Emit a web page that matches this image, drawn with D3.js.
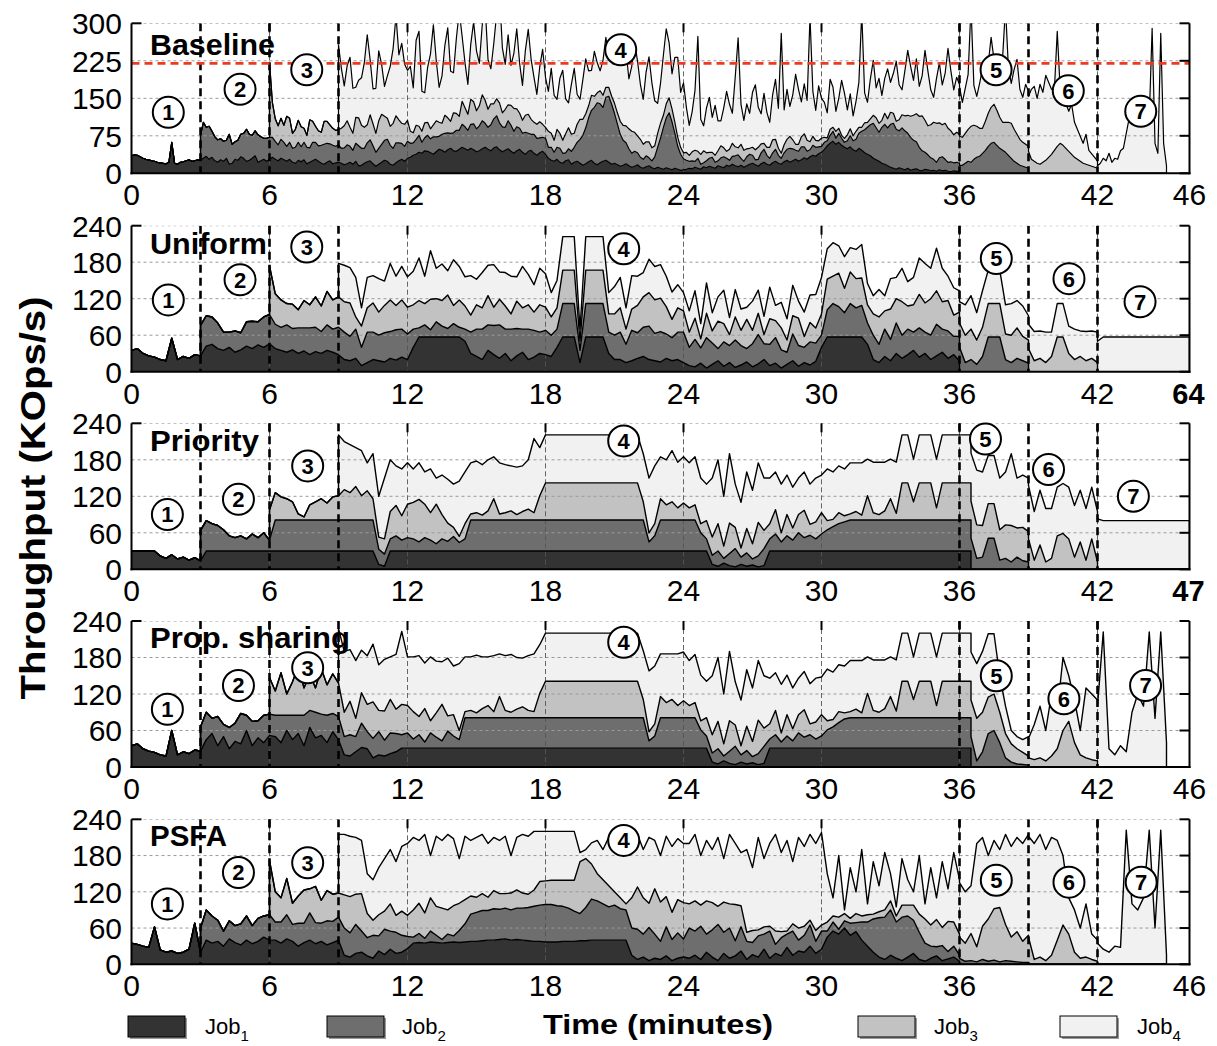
<!DOCTYPE html>
<html>
<head>
<meta charset="utf-8">
<script src="https://cdn.jsdelivr.net/npm/d3@7"></script>
<style>
  body { margin: 0; background: #fff; }
  svg { display: block; font-family: "Liberation Sans", Arial, sans-serif; }
</style>
</head>
<body>
<svg id="chart" width="1217" height="1046"></svg>
<script>
// Throughput traces (KOps/s). Each job's trace starts at its start time and is
// sampled every `step` minutes of its panel, lasting as long as its array.
const jobNames = ["Job1", "Job2", "Job3", "Job4"];
const jobStarts = [0, 3, 6, 9];
const panelNames = ["Baseline", "Uniform", "Priority", "Prop. sharing", "PSFA"];
const panelSteps = [0.125, 0.25, 0.25, 0.25, 0.25];
const yTicksBaseline = [0, 75, 150, 225, 300];
const yTicksShared = [0, 60, 120, 180, 240];
const xTicks = [0, 6, 12, 18, 24, 30, 36, 42, 46];
const phaseBounds = [3, 6, 9, 36, 39, 42];
const phaseLabels = ["1", "2", "3", "4", "5", "6", "7"];
const capacityLine = 220;
const runEndLabels = [null, "64", "47", null, null];

// ---------- Baseline (every 0.125 min) ----------
const baselineJob1 = [
  35,37,36,33,30,28,27,25,24,22,21,20,19,22,62,20,18,22,23,25,27,24,25,27,26,
  30,34,28,32,25,22,27,24,30,18,20,28,26,33,30,24,26,30,35,22,25,28,24,28,
  32,28,25,30,27,24,28,22,20,26,23,27,19,22,25,28,24,20,18,22,25,19,21,22,
  20,17,19,22,18,24,15,16,20,23,25,19,14,18,22,26,24,18,16,21,25,28,24,30,
  32,36,38,42,40,45,44,41,38,43,48,46,42,47,50,45,44,48,52,49,46,50,47,43,
  45,49,52,48,45,51,53,47,43,46,49,44,40,45,48,42,38,44,46,40,36,41,44,38,
  30,26,24,28,22,20,25,27,18,22,24,20,16,19,23,26,20,17,21,24,26,22,18,20,
  17,14,16,19,15,12,14,17,12,10,13,15,11,9,12,10,8,11,9,7,10,8,6,7,
  8,10,9,12,10,8,13,11,14,12,10,15,13,11,16,14,18,15,13,16,12,15,18,20,
  17,14,19,22,18,16,21,24,20,18,23,26,22,25,28,24,27,31,28,33,36,34,39,42,
  48,55,60,64,58,62,56,52,49,53,47,44,50,46,41,38,35,30,27,24,20,18,15,12,
  10,8,11,9,7,10,6,8,9,6,5,8,7,5,6,4,7,5,6,4,3,5,4,4];
const baselineJob2 = [
  50,72,58,66,52,48,45,42,40,36,60,38,35,40,45,50,64,52,46,50,55,48,42,46,44,
  40,36,32,38,35,30,34,28,32,36,30,35,33,29,37,34,31,36,40,38,34,37,33,35,
  30,34,38,32,28,36,40,34,30,38,42,36,28,32,36,40,44,38,34,40,36,32,30,34,
  28,25,30,34,22,26,32,28,35,30,26,32,38,34,30,36,42,38,46,44,40,48,52,46,
  50,56,48,44,52,58,62,54,50,46,56,52,44,48,42,38,44,36,32,38,34,30,28,32,
  22,26,18,24,28,20,16,22,26,30,38,48,60,72,88,100,112,124,118,108,126,132,120,100,
  82,64,50,42,34,28,30,24,20,18,22,16,14,24,40,60,84,100,112,96,70,46,32,22,
  18,14,16,12,20,10,8,14,16,20,12,10,18,22,14,12,16,20,24,14,12,18,20,16,
  10,14,22,26,18,14,20,24,16,12,18,22,28,24,18,20,26,22,16,14,20,18,14,12,
  14,10,16,20,12,18,14,10,16,22,18,24,30,38,46,54,62,70,64,58,72,80,76,86,
  90,80,74,82,78,70,66,58,54,46,40,34,30,26,22,18,24,28,22,18,20,16,18,16,
  16,20,24,22,28,32,34,40,46,54,60,62,56,50,46,42,36,30,24,20,16,14,12,10];
const baselineJob3 = [
  150,70,45,38,42,34,60,48,30,36,44,40,28,24,56,42,32,30,26,46,44,38,34,32,30,
  40,44,48,38,34,52,56,46,42,36,50,44,38,55,60,48,42,38,50,54,46,40,44,42,
  24,20,28,18,22,30,26,20,24,32,28,22,36,30,24,40,34,28,46,38,32,50,44,36,
  40,52,46,36,42,30,34,40,28,36,32,40,46,36,30,26,34,38,30,24,28,32,26,22,
  32,28,24,36,30,26,38,42,34,28,36,40,32,28,24,30,22,20,26,24,20,18,16,20,
  22,26,30,34,40,44,38,34,36,30,28,32,26,22,28,30,24,28,30,26,22,18,14,12,
  16,12,18,22,14,20,24,16,12,10,14,20,24,18,14,22,26,18,14,28,22,16,12,16,
  20,24,18,12,16,22,26,20,14,10,16,20,24,18,12,14,20,26,22,16,18,14,12,16,
  10,6,12,8,14,10,6,8,12,14,10,16,12,8,14,10,12,16,20,18,14,22,18,24,
  20,16,22,26,30,36,42,50,56,62,70,64,58,66,74,78,70,64,72,68,62,56,60,58,
  56,60,64,72,68,62,56,50,58,66,72,76,70,62,56,60,66,70,64,58,52,48,46,44,
  28,24,20,18,22,26,32,38,46,54,60,56,50,44,38,32,28,24,20,18,16,14,12,10];
const baselineJob4 = [
  170,120,80,110,140,90,60,75,95,130,180,110,70,90,140,100,60,85,120,150,200,130,160,120,100,
  130,90,170,190,80,60,110,150,200,120,70,95,140,180,100,80,150,210,130,90,60,110,160,120,
  85,140,190,100,70,120,170,220,130,90,140,80,110,160,100,70,130,170,120,90,60,110,150,100,
  80,130,90,60,110,140,70,50,100,130,60,40,80,110,70,50,90,60,40,70,100,60,80,120,
  140,170,120,150,100,130,180,150,110,90,140,170,130,90,60,80,120,150,110,70,130,160,110,140,
  90,60,80,120,230,70,50,90,110,70,100,60,50,80,120,90,60,140,220,80,60,90,70,110,
  130,80,60,100,70,50,90,120,80,240,70,100,60,90,140,110,70,100,80,250,90,60,110,80,
  70,50,100,80,40,60,110,90,50,70,40,60,90,230,60,40,80,110,60,90,50,70,100,60,
  80,120,70,50,90,130,100,70,110,60,80,140,110,70,50,90,120,80,100,160,120,90,110,100,
  70,90,110,240,80,60,90,120,80,100,140,90,70,100,130,230,110,80,120,150,100,90,120,110,
  140,150,130,160,140,170,150,130,120,230,110,100,90,80,100,70,60,50,40,60,30,25,20,15,
  20,30,25,40,22,30,28,45,50,80,110,130,140,120,100,130,150,110,290,60,40,280,60,15];

// ---------- Uniform (every 0.25 min) ----------
const uniformJob1 = [
  35,38,30,26,24,20,18,55,20,25,22,28,26,
  42,45,38,35,40,32,36,42,38,44,40,46,
  38,35,32,36,30,34,28,33,30,35,32,28,
  20,18,22,10,15,20,18,16,22,19,24,20,
  40,57,57,57,57,57,57,57,57,50,30,25,20,35,28,22,30,18,26,32,20,24,30,28,
  25,40,57,57,57,15,57,57,57,57,30,20,20,15,18,22,25,20,18,16,22,18,20,15,
  10,8,14,6,12,18,9,15,7,11,16,8,13,20,10,14,6,12,18,9,15,11,17,40,
  57,57,57,57,57,57,57,45,20,15,25,18,30,22,28,35,24,30,20,26,32,22,28,18];
const uniformJob2 = [
  50,50,45,42,30,25,35,28,40,45,38,50,48,
  40,38,45,35,42,38,44,40,36,42,38,45,
  45,40,48,30,50,45,42,48,44,50,46,42,
  30,15,20,12,25,18,14,22,16,20,35,45,50,42,48,55,40,52,45,38,50,44,35,40,
  35,30,55,55,55,20,55,55,55,55,35,40,45,30,50,42,48,55,45,50,40,38,45,50,
  30,45,25,50,35,20,40,28,45,32,22,38,48,26,35,42,30,20,44,34,25,38,30,20,
  45,55,50,40,55,48,52,35,40,30,45,35,50,38,42,30,48,35,40,52,38,45,30,40,
  15,20,12,25,57,57,57,20,15,22,18,14];
const uniformJob3 = [
  80,50,45,35,40,30,45,38,50,42,55,48,50,
  50,55,20,35,40,48,38,45,52,40,48,44,
  40,45,35,50,38,42,55,30,45,38,28,40,35,48,30,42,38,25,45,35,40,30,45,38,
  30,35,55,55,55,15,55,55,55,55,30,35,40,25,35,45,50,55,55,55,45,30,40,35,
  25,35,15,40,20,45,30,18,38,25,48,22,35,15,42,28,36,20,30,45,18,32,25,35,
  50,45,55,40,52,48,45,30,35,45,30,50,40,55,38,45,55,48,60,55,45,50,35,40,
  45,50,40,48,55,55,55,42,45,50,40,38,
  18,22,15,25,57,57,30,20,25,18,22,15];
const uniformJob4 = [
  55,60,58,65,30,50,45,55,40,60,48,55,50,
  55,70,45,80,50,60,40,75,55,48,65,42,58,50,70,45,55,62,40,68,50,45,60,55,
  40,45,55,55,55,20,55,55,55,55,35,45,50,35,55,48,40,55,55,55,50,45,38,30,
  35,45,25,50,30,40,55,28,45,35,20,48,38,30,52,25,42,35,50,28,40,45,55,60,
  50,55,45,52,40,48,55,35,30,45,25,50,35,55,40,45,60,65,50,70,55,40,45,35,
  50,55,45,60,55,55,55,48,52,45,50,40,
  48,45,50,40,55,55,45,50,42,48,45,50,
  57,57,57,57,57,57,57,57,57,57,57,57,57,57,57,57];

// ---------- Priority (every 0.25 min) ----------
const priorityJob1 = [
  30,30,30,30,30,22,18,24,17,20,15,19,14,
  30,30,30,30,30,30,30,30,30,30,30,30,
  30,30,30,30,30,30,30,30,30,30,30,30,
  30,30,30,30,30,30,8,5,30,30,30,30,
  30,30,30,30,30,30,30,30,30,30,30,30,30,30,30,30,30,30,30,30,30,30,30,30,
  30,30,30,30,30,30,30,30,30,30,30,30,30,30,30,30,30,30,30,30,30,30,30,30,
  30,30,30,30,8,5,10,6,4,8,5,7,4,6,30,30,30,30,30,30,30,30,30,30,
  30,30,30,30,30,30,30,30,30,30,30,30,30,30,30,30,30,30,30,30,30,30,30,30,
  30,30];
const priorityJob2 = [
  50,50,45,42,35,25,22,25,20,28,22,30,18,
  51,51,51,51,51,51,51,51,51,51,51,51,
  51,51,51,51,51,51,25,20,20,25,18,22,
  20,15,22,18,12,20,16,24,14,20,51,51,51,51,51,51,51,51,51,51,51,51,51,51,
  51,51,51,51,51,51,51,51,51,51,51,51,51,51,51,51,51,15,25,51,51,51,51,51,
  51,51,30,20,15,25,8,20,30,12,22,10,18,28,20,28,15,25,18,30,22,26,20,28,
  35,40,45,48,51,51,51,51,51,51,51,51,51,51,51,51,51,51,51,51,51,51,51,51,
  51,51,18,20,51,51,15,18,12,20,14,12];
const priorityJob3 = [
  50,45,38,35,30,10,5,25,30,35,28,38,40,
  50,45,55,40,48,35,20,25,45,50,40,55,
  60,70,55,45,65,40,30,15,10,25,10,12,8,15,35,10,12,15,9,14,18,12,40,61,
  61,61,61,61,61,61,61,61,61,61,61,61,61,61,61,61,30,15,20,35,25,30,20,28,
  20,25,15,30,30,45,20,50,35,15,40,25,55,30,25,40,15,35,20,30,45,18,28,35,
  15,12,18,10,10,14,8,40,12,9,15,35,11,61,61,30,61,61,61,20,61,61,61,61,
  61,61,55,52,57,57,50,55,60,48,55,50,
  15,40,12,18,55,59,50,20,45,15,50,12];
const priorityJob4 = [
  100,79,79,64,74,46,74,67,100,85,65,77,68,
  55,60,53,72,43,65,72,71,91,85,84,85,83,84,69,84,79,74,78,75,81,122,79,79,
  79,79,79,79,79,79,79,79,79,79,79,79,79,79,79,79,79,90,95,69,74,84,75,76,
  74,79,75,60,97,105,82,114,71,75,93,88,98,86,75,62,80,65,67,60,63,66,72,62,
  85,78,77,77,84,80,86,60,83,86,80,65,84,79,79,70,79,79,79,80,79,79,79,79,
  79,79,90,88,79,79,85,87,118,82,86,88,
  80,90,88,82,80,82,85,85,85,85,85,83,
  80,80,80,80,80,80,80,80,80,80,80,80,80,80,80,80];

// ---------- Proportional sharing (every 0.25 min) ----------
const propJob1 = [
  35,38,30,26,24,20,18,60,20,25,22,28,26,
  45,55,35,50,30,42,38,60,35,48,40,52,
  50,40,60,45,55,35,65,48,52,40,58,45,
  20,18,25,32,30,15,20,18,22,25,31,31,
  31,31,31,31,31,31,31,31,31,31,31,31,31,31,31,31,31,31,31,31,31,31,31,31,
  31,31,31,31,31,31,31,31,31,31,31,31,31,31,31,31,31,31,31,31,31,31,31,31,
  31,31,31,31,8,5,10,6,4,8,5,7,4,6,31,31,31,31,31,31,31,31,31,31,
  31,31,31,31,31,31,31,31,31,31,31,31,31,31,31,31,31,31,31,31,31,31,31,31,
  31,31];
const propJob2 = [
  40,45,25,48,20,35,30,50,25,40,28,45,35,
  35,45,25,40,30,50,28,42,35,45,30,38,
  30,35,25,40,28,32,38,26,34,30,22,25,
  15,22,10,25,18,12,28,20,14,50,50,50,50,50,50,50,50,50,50,50,50,50,50,50,
  50,50,50,50,50,50,50,50,50,50,50,50,50,50,50,50,50,12,20,50,50,50,50,50,
  50,50,30,20,15,25,8,20,30,12,22,10,18,28,15,22,10,20,12,25,18,22,15,20,
  30,35,42,48,50,50,50,50,50,50,50,50,50,50,50,50,50,50,50,50,50,50,50,50,
  50,50,10,25,55,60,40,15,8,5,4,3];
const propJob3 = [
  60,40,70,35,55,80,45,60,40,75,50,65,55,
  40,55,30,50,45,60,35,48,55,40,50,45,
  45,30,55,20,40,60,25,35,15,10,12,8,15,20,10,35,12,9,14,18,12,10,40,60,
  60,60,60,60,60,60,60,60,60,60,60,60,60,60,60,60,30,15,20,35,25,30,20,28,
  20,25,15,30,30,45,20,50,35,15,40,25,55,30,25,40,15,35,20,30,45,18,28,35,
  15,12,18,10,10,14,8,40,12,9,15,35,11,60,60,30,60,60,60,20,60,60,60,60,
  60,60,70,65,60,60,50,40,30,25,20,15,
  12,15,10,18,30,60,75,40,20,15,12,10];
const propJob4 = [
  90,100,85,95,70,80,95,75,85,70,90,120,80,
  90,100,75,105,85,70,95,80,110,90,88,95,85,80,92,70,90,95,85,80,90,95,80,79,
  79,79,79,79,79,79,79,79,79,79,79,79,79,79,79,79,80,100,95,70,80,75,85,80,
  74,79,75,60,97,105,82,114,71,75,93,88,98,86,75,62,80,65,67,60,63,66,72,62,
  85,78,77,77,84,80,86,60,83,86,80,65,84,79,79,70,79,79,79,80,79,79,79,79,
  79,79,90,100,104,99,60,45,22,20,21,32,
  58,85,50,102,60,120,75,70,40,115,108,100,
  222,30,20,35,25,90,120,100,222,80,222,40];

// ---------- PSFA (every 0.25 min) ----------
const psfaJob1 = [
  35,33,30,28,62,24,20,22,18,20,25,68,20,
  40,35,38,30,42,36,32,40,34,38,45,40,
  40,35,42,38,30,36,40,34,38,32,36,40,
  15,12,18,20,14,10,22,16,25,18,20,26,
  35,36,35,37,36,35,36,37,36,37,38,38,39,40,40,41,42,40,41,40,39,38,38,37,
  37,37,38,38,38,39,39,40,40,40,40,40,40,40,15,8,12,6,10,8,14,6,10,12,
  10,15,8,20,12,6,18,10,14,22,8,16,12,25,10,18,14,28,15,22,20,30,18,25,
  45,55,50,60,48,54,40,30,20,12,8,15,10,6,12,18,8,5,10,14,6,9,12,5];
const psfaJob2 = [
  40,50,45,35,25,30,28,35,40,30,38,35,42,
  30,35,40,28,38,32,45,35,30,40,35,38,
  45,40,48,35,30,38,25,42,30,35,28,20,
  10,15,8,18,12,6,14,10,20,30,45,48,50,49,52,50,51,50,52,53,55,58,60,62,
  62,60,58,55,50,45,55,68,65,60,55,58,52,50,45,50,38,55,40,30,48,35,42,30,
  50,40,55,30,45,60,35,50,25,40,30,20,35,25,45,15,30,22,40,18,28,35,20,30,
  10,15,8,12,20,15,30,40,55,65,70,75,60,72,68,55,45,30,20,15,25,12,18,10,
  5,6,4,8,5,7,4,6,5,4,3,3];
const psfaJob3 = [
  90,50,40,60,35,45,55,40,60,38,50,45,40,
  55,60,50,62,40,25,35,30,45,28,40,35,
  45,50,42,55,48,52,40,50,45,40,30,25,28,22,30,26,24,28,30,25,22,27,39,39,
  40,42,43,46,51,86,81,58,45,40,35,22,18,10,50,70,60,40,75,65,50,45,55,60,
  40,50,35,55,45,30,50,40,60,35,15,20,10,12,8,22,10,5,12,20,15,8,18,10,
  15,10,20,12,8,15,10,12,8,10,12,15,10,20,18,25,30,40,35,45,30,50,40,35,
  30,45,25,55,70,85,90,60,40,50,35,45,
  8,12,6,15,40,65,50,20,10,12,8,5];
const psfaJob4 = [
  97,100,100,94,88,66,67,78,87,90,89,107,119,
  120,104,130,70,116,112,125,111,74,105,92,99,98,89,88,88,95,62,87,97,96,97,83,82,
  81,81,81,81,81,15,15,35,55,50,80,80,105,105,90,87,80,109,80,77,100,109,101,98,
  100,110,82,100,88,114,72,115,101,88,137,104,153,113,137,160,131,150,103,150,132,142,144,153,
  80,30,102,6,84,36,110,18,87,43,95,45,15,77,42,22,97,25,95,36,109,54,115,90,
  85,79,171,147,105,113,96,149,150,156,162,167,
  192,203,184,195,165,115,60,70,50,88,42,35,
  25,20,30,28,222,100,90,110,222,60,222,15];

// Circled phase markers per panel, as [minute, throughput]
const markersBaseline = [[1.6,122],[4.72,168],[7.62,207],[21.27,247],[37.59,207],[40.73,165],[43.88,124]];
const markersUniform  = [[1.6,118],[4.72,151],[7.62,205],[21.4,202],[37.6,186],[40.76,153],[43.85,115]];
const markersPriority = [[1.56,90],[4.65,115],[7.66,170],[21.4,211],[37.13,214],[39.87,164],[43.56,120]];
const markersProp     = [[1.56,95],[4.65,134],[7.66,163],[21.4,205],[37.6,150],[40.54,112],[44.09,134]];
const markersPsfa     = [[1.56,100],[4.65,152],[7.66,168],[21.4,205],[37.6,139],[40.76,136],[43.9,136]];

// ---------- drawing ----------
const fills = ["#333333", "#6e6e6e", "#c2c2c2", "#f1f1f1"];
const svg = d3.select("#chart");
const x = d3.scaleLinear().domain([0, 46]).range([131.5, 1189.5]);

const panels = [
  { series: [baselineJob1, baselineJob2, baselineJob3, baselineJob4], ticks: yTicksBaseline, top: 23.3, h: 150, markers: markersBaseline, titleW: 125, titleY: 55 },
  { series: [uniformJob1, uniformJob2, uniformJob3, uniformJob4], ticks: yTicksShared, top: 225.7, h: 146, markers: markersUniform, titleW: 117, titleY: 253.5 },
  { series: [priorityJob1, priorityJob2, priorityJob3, priorityJob4], ticks: yTicksShared, top: 423.3, h: 146, markers: markersPriority, titleW: 109, titleY: 451 },
  { series: [propJob1, propJob2, propJob3, propJob4], ticks: yTicksShared, top: 621, h: 146, markers: markersProp, titleW: 200, titleY: 648 },
  { series: [psfaJob1, psfaJob2, psfaJob3, psfaJob4], ticks: yTicksShared, top: 819.3, h: 145, markers: markersPsfa, titleW: 77, titleY: 845.5 }
];

// Build stack rows on the sampling grid; at job start/end instants emit a
// left and right row so arrivals and departures are vertical edges.
function buildRows(series, step) {
  const starts = jobStarts.map(s => Math.round(s / step));
  const ends = series.map((arr, j) => starts[j] + arr.length - 1);
  const last = d3.max(ends);
  const breaks = new Set([...starts, ...ends].filter(k => k > 0));
  const val = (j, k, side) => {
    const s = starts[j], e = ends[j];
    const on = side === "L" ? (k > s && k <= e) : side === "R" ? (k >= s && k < e) : (k >= s && k <= e);
    return on ? series[j][k - s] : 0;
  };
  const rows = [];
  for (let k = 0; k <= last; k++) {
    const sides = breaks.has(k) ? ["L", "R"] : ["C"];
    for (const side of sides) {
      const row = { t: k * step };
      jobNames.forEach((n, j) => { row[n] = val(j, k, side); });
      rows.push(row);
    }
  }
  return rows;
}

const stack = d3.stack().keys(jobNames);

panels.forEach((p, i) => {
  const yMax = d3.max(p.ticks);
  const y = d3.scaleLinear().domain([0, yMax]).range([p.top + p.h, p.top]);
  const g = svg.append("g");
  const clipId = "clip" + i;
  svg.append("clipPath").attr("id", clipId).append("rect")
    .attr("x", x(0)).attr("y", p.top).attr("width", x(46) - x(0)).attr("height", p.h);

  const layers = stack(buildRows(p.series, panelSteps[i]));
  const area = d3.area().x(d => x(d.data.t)).y0(d => y(d[0])).y1(d => y(d[1]));
  const line = d3.line().x(d => x(d.data.t)).y(d => y(d[1]));

  const plot = g.append("g").attr("clip-path", `url(#${clipId})`);
  plot.selectAll("path.area").data(layers).join("path")
    .attr("class", "area").attr("d", area).attr("fill", (d, j) => fills[j]);

  // grid
  plot.selectAll("line.hgrid").data(p.ticks.filter(v => v > 0)).join("line")
    .attr("x1", x(0)).attr("x2", x(46)).attr("y1", d => y(d)).attr("y2", d => y(d))
    .attr("stroke", "#9a9a9a").attr("stroke-width", 1).attr("stroke-dasharray", "3,3");
  plot.selectAll("line.vgrid").data(xTicks.filter(v => v > 0 && v < 46)).join("line")
    .attr("x1", d => x(d)).attr("x2", d => x(d)).attr("y1", p.top).attr("y2", p.top + p.h)
    .attr("stroke", "#555").attr("stroke-width", 0.9).attr("stroke-dasharray", "5,3");

  plot.selectAll("path.edge").data(layers).join("path")
    .attr("class", "edge").attr("d", line).attr("fill", "none")
    .attr("stroke", "#000").attr("stroke-width", i === 0 ? 1.2 : 1.4).attr("stroke-linejoin", "round");

  // phase boundaries
  plot.selectAll("line.phase").data(phaseBounds).join("line")
    .attr("x1", d => x(d)).attr("x2", d => x(d)).attr("y1", p.top).attr("y2", p.top + p.h)
    .attr("stroke", "#000").attr("stroke-width", 2.6).attr("stroke-dasharray", "8,5");

  if (i === 0) {
    plot.append("line")
      .attr("x1", x(0)).attr("x2", x(46)).attr("y1", y(capacityLine)).attr("y2", y(capacityLine))
      .attr("stroke", "#ee3a22").attr("stroke-width", 2.8).attr("stroke-dasharray", "8,5");
  }

  // spines and inward ticks
  const ln = (x1, y1, x2, y2) => g.append("line")
    .attr("x1", x1).attr("y1", y1).attr("x2", x2).attr("y2", y2)
    .attr("stroke", "#000").attr("stroke-width", 2);
  ln(x(0), p.top, x(0), p.top + p.h + 1);
  ln(x(46), p.top, x(46), p.top + p.h + 1);
  ln(x(0) - 1, p.top + p.h, x(46) + 1, p.top + p.h);
  ln(x(0), p.top, x(0) + 10, p.top);
  p.ticks.forEach(v => ln(x(46) - 10, y(v), x(46), y(v)));
  xTicks.filter(v => v > 0 && v < 46).forEach(v => ln(x(v), p.top, x(v), p.top + 9));

  // tick labels
  g.selectAll("text.yt").data(p.ticks).join("text")
    .attr("x", 122).attr("y", d => y(d)).attr("dy", "0.36em")
    .attr("text-anchor", "end").attr("font-size", 30).text(d => d);
  const xLabels = xTicks.map(v => ({ v, label: String(v), bold: false }));
  if (runEndLabels[i]) { xLabels[xLabels.length - 1].label = runEndLabels[i]; xLabels[xLabels.length - 1].bold = true; }
  g.selectAll("text.xt").data(xLabels).join("text")
    .attr("x", d => x(d.v) - (d.bold ? 1 : 0)).attr("y", p.top + p.h + 32)
    .attr("text-anchor", "middle").attr("font-size", d => d.bold ? 29 : 30)
    .attr("font-weight", d => d.bold ? "bold" : "normal").text(d => d.label);

  // panel title
  g.append("text").attr("x", 150).attr("y", p.titleY)
    .attr("font-size", 29).attr("font-weight", "bold")
    .attr("textLength", p.titleW).attr("lengthAdjust", "spacingAndGlyphs")
    .text(panelNames[i]);

  // circled phase numbers
  const mk = g.selectAll("g.mk").data(p.markers).join("g")
    .attr("transform", d => `translate(${x(d[0])},${y(d[1])})`);
  mk.append("circle").attr("r", 15.5).attr("fill", "#fff").attr("stroke", "#000").attr("stroke-width", 2);
  mk.append("text").attr("text-anchor", "middle").attr("dy", "0.36em")
    .attr("font-size", 22).attr("font-weight", "bold").text((d, j) => phaseLabels[j]);
});

// axis titles
svg.append("text").attr("transform", "translate(45,498) rotate(-90)")
  .attr("text-anchor", "middle").attr("font-size", 35).attr("font-weight", "bold")
  .attr("textLength", 403).attr("lengthAdjust", "spacingAndGlyphs")
  .text("Throughput (KOps/s)");
svg.append("text").attr("x", 658).attr("y", 1034)
  .attr("text-anchor", "middle").attr("font-size", 28).attr("font-weight", "bold")
  .attr("textLength", 230).attr("lengthAdjust", "spacingAndGlyphs")
  .text("Time (minutes)");

// legend
const legendX = [{ rx: 128, tx: 205 }, { rx: 327, tx: 402 }, { rx: 858, tx: 934 }, { rx: 1060, tx: 1137 }];
const lg = svg.selectAll("g.leg").data(jobNames).join("g");
lg.append("rect").attr("x", (d, j) => legendX[j].rx + 2).attr("y", 1018).attr("width", 57).attr("height", 21).attr("fill", "#999");
lg.append("rect").attr("x", (d, j) => legendX[j].rx).attr("y", 1016).attr("width", 57).attr("height", 21)
  .attr("fill", (d, j) => fills[j]).attr("stroke", "#000").attr("stroke-width", 1);
const lt = lg.append("text").attr("x", (d, j) => legendX[j].tx).attr("y", 1034).attr("font-size", 22);
lt.append("tspan").text("Job");
lt.append("tspan").attr("font-size", 15).attr("dy", 7).text((d, j) => String(j + 1));
</script>
</body>
</html>
